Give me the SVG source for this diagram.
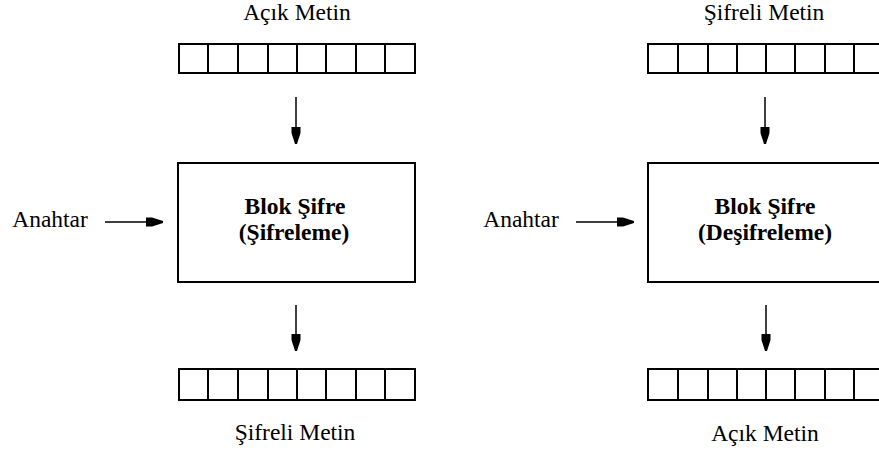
<svg xmlns="http://www.w3.org/2000/svg" width="879" height="455" viewBox="0 0 879 455">
  <style>
    text { font-family: 'Liberation Serif', 'DejaVu Serif', 'Times New Roman', serif; font-size: 23.5px; fill: #000; text-anchor: middle; }
    .bold { font-weight: bold; }
    .reg { fill: #fff; stroke: #000; stroke-width: 2; }
    .box { fill: #fff; stroke: #000; stroke-width: 2; }
    .conn { stroke: #000; stroke-width: 1.5; fill: none; marker-end: url(#ah); }
  </style>
  <defs>
    <marker id="ah" markerUnits="userSpaceOnUse" markerWidth="20" markerHeight="12" viewBox="0 -6 18 12" refX="17" refY="0" orient="auto">
      <polygon points="0,-4.5 6,-4.5 17,-1 17,1 6,4.5 0,4.5" fill="#000"/>
    </marker>
  </defs>
  <rect width="879" height="455" fill="#fff"/>

  <!-- Left: encryption -->
  <g id="plain-in">
    <text x="297" y="20" font-family="Liberation Serif, serif">Açık Metin</text>
    <rect class="reg" x="179" y="44" width="236" height="29"/>
    <path d="M208,44V73M238,44V73M268,44V73M297,44V73M326,44V73M356,44V73M385,44V73" stroke="#000" stroke-width="2"/>
  </g>
  <g id="key-left">
    <text x="50" y="227" font-family="Liberation Serif, serif">Anahtar</text>
  </g>
  <g id="cipher-enc">
    <rect class="box" x="178" y="163" width="237" height="119"/>
    <text class="bold" x="295" y="214" font-family="Liberation Serif, serif">Blok Şifre</text>
    <text class="bold" x="294" y="240" font-family="Liberation Serif, serif">(Şifreleme)</text>
  </g>
  <g id="cipher-out">
    <rect class="reg" x="179" y="369" width="236" height="31"/>
    <path d="M208,369V400M238,369V400M268,369V400M297,369V400M326,369V400M356,369V400M385,369V400" stroke="#000" stroke-width="2"/>
    <text x="295" y="440" font-family="Liberation Serif, serif">Şifreli Metin</text>
  </g>

  <!-- Right: decryption -->
  <g id="cipher-in">
    <text x="764" y="20" font-family="Liberation Serif, serif">Şifreli Metin</text>
    <rect class="reg" x="648" y="44" width="236" height="29"/>
    <path d="M678,44V73M708,44V73M737,44V73M766,44V73M795,44V73M825,44V73M854,44V73" stroke="#000" stroke-width="2"/>
  </g>
  <g id="key-right">
    <text x="521" y="227" font-family="Liberation Serif, serif">Anahtar</text>
  </g>
  <g id="cipher-dec">
    <rect class="box" x="648" y="163" width="237" height="119"/>
    <text class="bold" x="765" y="214" font-family="Liberation Serif, serif">Blok Şifre</text>
    <text class="bold" x="765" y="240" font-family="Liberation Serif, serif">(Deşifreleme)</text>
  </g>
  <g id="plain-out">
    <rect class="reg" x="648" y="369" width="236" height="31"/>
    <path d="M678,369V400M708,369V400M737,369V400M766,369V400M795,369V400M825,369V400M854,369V400" stroke="#000" stroke-width="2"/>
    <text x="765" y="441" font-family="Liberation Serif, serif">Açık Metin</text>
  </g>

  <g id="connectors">
    <line class="conn" x1="296" y1="97" x2="296" y2="144"/>
    <line class="conn" x1="105" y1="222" x2="163" y2="222"/>
    <line class="conn" x1="296" y1="305" x2="296" y2="351"/>
    <line class="conn" x1="765" y1="97" x2="765" y2="144"/>
    <line class="conn" x1="576" y1="222" x2="634" y2="222"/>
    <line class="conn" x1="766" y1="305" x2="766" y2="351"/>
  </g>
</svg>
